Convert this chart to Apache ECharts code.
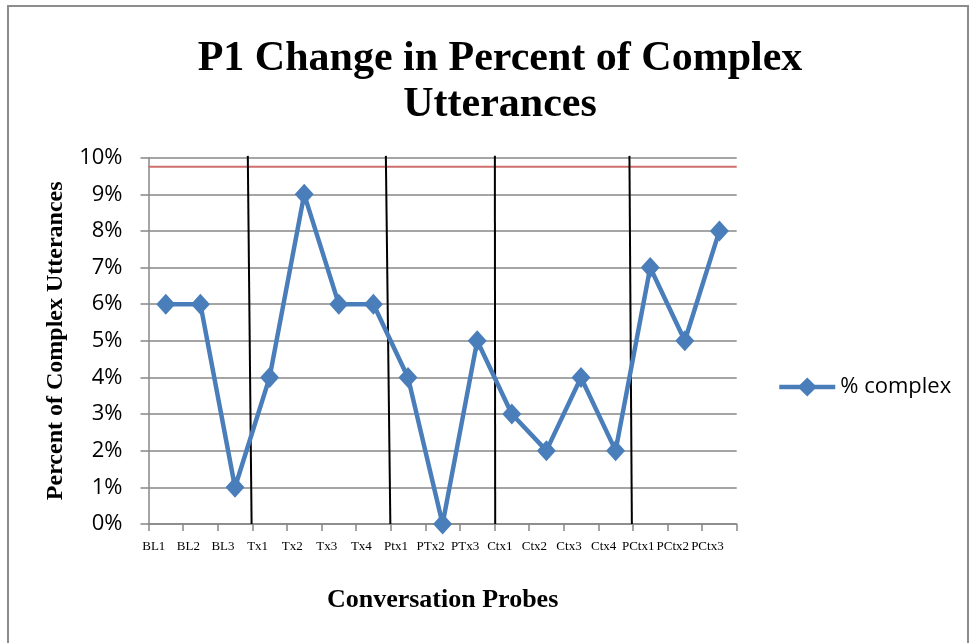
<!DOCTYPE html>
<html>
<head>
<meta charset="utf-8">
<script src="https://cdn.jsdelivr.net/npm/echarts@6/dist/echarts.min.js"></script>
<style>
html,body{margin:0;padding:0;background:#fff;}
#chart{width:971px;height:643px;}
</style>
</head>
<body>
<div id="chart"></div>
<script>
// Data
const categories = ['BL1','BL2','BL3','Tx1','Tx2','Tx3','Tx4','Ptx1','PTx2','PTx3','Ctx1','Ctx2','Ctx3','Ctx4','PCtx1','PCtx2','PCtx3'];
const pctComplex = [6,6,1,4,9,6,6,4,0,5,3,2,4,2,7,5,8];
const yTicks = [0,1,2,3,4,5,6,7,8,9,10];
const criterionLevel = 9.75;
// phase change lines (hand drawn): [xTop, xBottom] in category-position units
const phaseLines = [[2.87,2.98],[6.86,6.99],[10.01,10.02],[13.9,13.97]];
const phaseTop = 10.05, phaseBottom = 0;

const chart = echarts.init(document.getElementById('chart'));
const blue = '#4a7ebb';
const grid = '#878787';

const phaseSeries = phaseLines.map((p, i) => ({
  type: 'line', name: 'phase' + i, xAxisIndex: 1, yAxisIndex: 0,
  data: [[p[0], phaseTop], [p[1], phaseBottom]],
  showSymbol: false, symbol: 'none', silent: true, clip: false, z: 3,
  lineStyle: { color: '#000', width: 2 }
}));

chart.setOption({
  animation: false,
  backgroundColor: '#fff',
  graphic: [{
    type: 'rect', shape: { x: 8, y: 6, width: 960, height: 700 },
    style: { fill: 'none', stroke: '#8c8c8c', lineWidth: 2 }, silent: true
  }],
  title: {
    text: 'P1 Change in Percent of Complex\nUtterances',
    left: 495, top: 31, textAlign: 'center',
    textStyle: { fontFamily: 'Liberation Serif', fontWeight: 'bold', fontSize: 42, lineHeight: 46, color: '#000' }
  },
  legend: {
    data: ['% complex'], left: 777, top: 376, padding: 0, itemWidth: 56, itemHeight: 24, itemGap: 6,
    lineStyle: { width: 4.5 },
    textStyle: { fontFamily: 'Open Sans', fontSize: 22, color: '#000' }
  },
  grid: { left: 148.5, right: 234.3, top: 157.7, bottom: 119.1 },
  xAxis: [{
    type: 'category', data: categories, boundaryGap: true,
    axisLine: { lineStyle: { color: grid, width: 1.5 } },
    axisTick: { show: true, length: 7, lineStyle: { color: grid, width: 1.5 } },
    axisLabel: { interval: 0, margin: 16, padding: [0, 24, 0, 0], fontFamily: 'Liberation Serif', fontSize: 13, color: '#000' },
    name: 'Conversation Probes', nameLocation: 'middle', nameGap: 63,
    nameTextStyle: { fontFamily: 'Liberation Serif', fontWeight: 'bold', fontSize: 26, color: '#000' }
  }, {
    type: 'value', min: 0, max: 17, show: false
  }],
  yAxis: {
    type: 'value', min: 0, max: 10, interval: 1,
    axisLine: { show: true, lineStyle: { color: grid, width: 1.5 } },
    axisTick: { show: true, length: 8, lineStyle: { color: grid, width: 1.5 } },
    splitLine: { lineStyle: { color: grid, width: 1.5 } },
    axisLabel: { margin: 26, fontFamily: 'Open Sans', fontSize: 22, color: '#000', formatter: v => v + '%' },
    name: 'Percent of Complex Utterances', nameLocation: 'middle', nameGap: 80, nameRotate: 90,
    nameTextStyle: { fontFamily: 'Liberation Serif', fontWeight: 'bold', fontSize: 24, color: '#000' }
  },
  series: [{
    type: 'line', name: 'criterion', xAxisIndex: 1, data: [[0, criterionLevel], [17, criterionLevel]],
    showSymbol: false, symbol: 'none', silent: true, z: 1,
    lineStyle: { color: '#cf6f6c', width: 2 }
  }].concat(phaseSeries).concat([{
    type: 'line', name: '% complex', data: pctComplex, z: 5,
    symbol: 'diamond', symbolSize: [19, 21], showAllSymbol: true,
    itemStyle: { color: blue }, lineStyle: { color: blue, width: 4.5 }
  }])
});
</script>
</body>
</html>
